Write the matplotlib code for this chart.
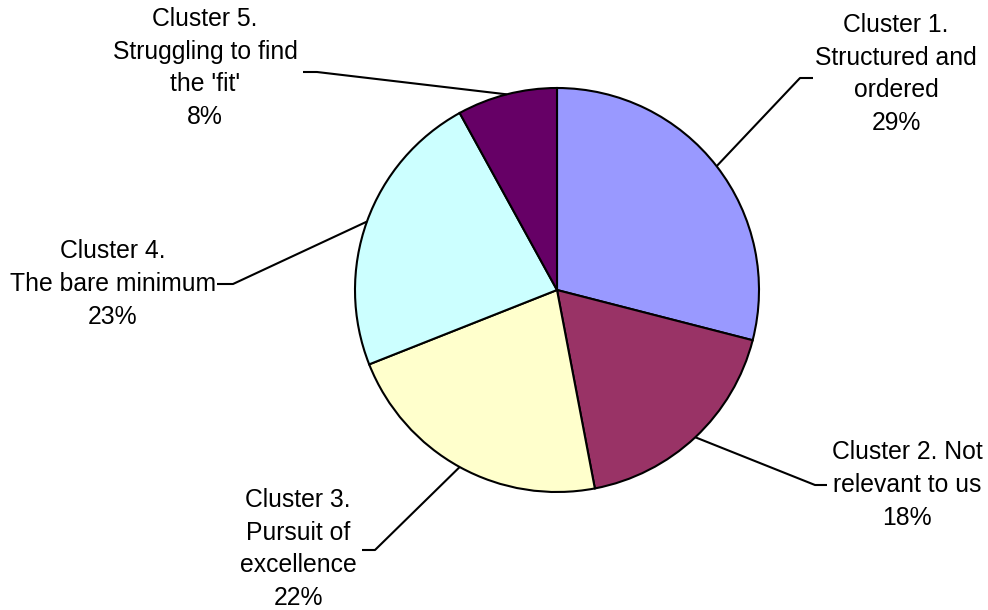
import numpy as np
import matplotlib
matplotlib.use("Agg")
import matplotlib.pyplot as plt

plt.rcParams["font.family"] = ["Liberation Sans", "DejaVu Sans"]

# cluster shares (percent), clockwise from 12 o'clock
clusters = [
    "Cluster 1.\nStructured and\nordered",
    "Cluster 2. Not\nrelevant to us",
    "Cluster 3.\nPursuit of\nexcellence",
    "Cluster 4.\nThe bare minimum",
    "Cluster 5.\nStruggling to find\nthe 'fit'",
]
shares = [29, 18, 22, 23, 8]
colors = ["#9999FF", "#993366", "#FFFFCC", "#CCFFFF", "#660066"]

# layout in pixel space (y measured from the top)
W, H = 988, 610
center = (557, 290)
radius = 202
# text centre and leader elbow / end for each label
text_pos = [(896, 74), (907, 485), (298, 549), (113, 284), (205, 68)]
elbows = [((800, 78), (813, 78)),
          ((815, 485), (827, 485)),
          ((375, 550), (362, 550)),
          ((233, 284), (217, 284)),
          ((317, 72), (303, 72))]

fig = plt.figure(figsize=(W / 100, H / 100), dpi=100)
ax = fig.add_axes([0, 0, 1, 1])
ax.set_xlim(0, W)
ax.set_ylim(0, H)
ax.set_aspect("equal")
ax.axis("off")

cx, cy = center[0], H - center[1]
wedges, _ = ax.pie(
    shares,
    colors=colors,
    startangle=90,
    counterclock=False,
    center=(cx, cy),
    radius=radius,
    wedgeprops=dict(edgecolor="black", linewidth=1.5),
    frame=True,
)
ax.set_xlim(0, W)
ax.set_ylim(0, H)
ax.axis("off")

for w, name, pct, tp, (elb, end) in zip(wedges, clusters, shares, text_pos, elbows):
    mid = np.deg2rad((w.theta1 + w.theta2) / 2)
    sx = cx + radius * np.cos(mid)
    sy = cy + radius * np.sin(mid)
    ax.plot([sx, elb[0], end[0]], [sy, H - elb[1], H - end[1]],
            color="black", lw=1.5, solid_capstyle="butt")
    ax.text(tp[0], H - tp[1], f"{name}\n{pct}%", ha="center", va="center",
            fontsize=17.8, linespacing=1.45, multialignment="center")

fig.savefig("out.png", dpi=100)
